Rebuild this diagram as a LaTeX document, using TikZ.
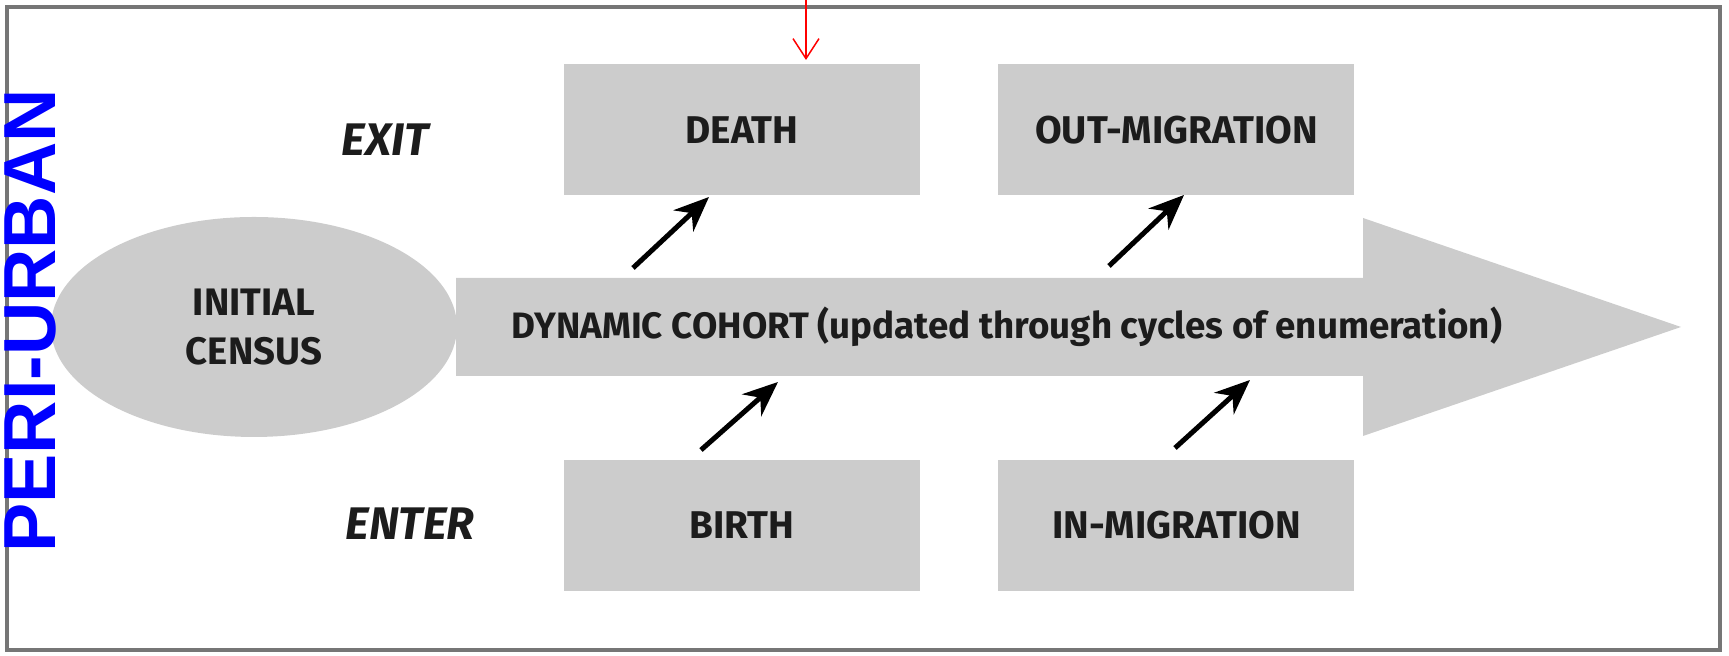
\documentclass[tikz,border=0pt]{standalone}
\usepackage{fontspec}
\setmainfont{Fira Sans}
\newfontfamily\sidefont{Liberation Sans}
\usepackage{tikz}
\usetikzlibrary{arrows.meta}
\usetikzlibrary{positioning}
\usetikzlibrary{shapes.geometric}
\definecolor{boxgray}{RGB}{204,204,204}
\definecolor{inkgray}{RGB}{28,28,28}
\definecolor{framegray}{RGB}{118,118,118}

\begin{document}
\begin{tikzpicture}[x=0.1mm,y=-0.1mm,
  box/.style={fill=boxgray,inner sep=0pt,minimum width=35.6mm,minimum height=13.1mm,text=inkgray,font=\fontsize{11}{13}\selectfont\bfseries},
  side/.style={text=inkgray,font=\fontsize{13}{15}\selectfont\bfseries\itshape},
  flow/.style={line width=0.5mm,-{Stealth[length=3.5mm,width=2.9mm]}}]
  \useasboundingbox (0,0) rectangle (1729,656);
  \draw[framegray,line width=0.4mm](7,7) rectangle (1720,650);

  \fill[boxgray](456,278)--(1363,278)--(1363,218)--(1681,327)--(1363,436)--(1363,376)--(456,376)--cycle;
  \node[ellipse,fill=boxgray,minimum width=40.6mm,minimum height=22mm,text=inkgray,align=center,font=\fontsize{10.9}{13.8}\selectfont\bfseries] (census) at (254,327){INITIAL\\CENSUS};
  \node[text=inkgray,font=\fontsize{10.45}{12}\selectfont\bfseries] (cohort) at (1007,327){DYNAMIC COHORT (updated through cycles of enumeration)};

  \node[box] (death) at (742,130){DEATH};
  \node[box,right=7.7mm of death](out){OUT-MIGRATION};
  \node[box,below=26.3mm of death](birth){BIRTH};
  \node[box,right=7.7mm of birth](in){IN-MIGRATION};

  \node[side] (exit) at (385,140){EXIT};
  \node[side] (enter) at (410,524){ENTER};

  \coordinate (deathtail) at (633,268);
  \coordinate (deathtip) at (709,197);
  \coordinate (outtail) at (1109,266);
  \coordinate (outtip) at (1184,195);
  \coordinate (birthtail) at (701,450);
  \coordinate (birthtip) at (778,382);
  \coordinate (intail) at (1175,448);
  \coordinate (intip) at (1250,380);
  \draw[flow](deathtail)--(deathtip);
  \draw[flow](outtail)--(outtip);
  \draw[flow](birthtail)--(birthtip);
  \draw[flow](intail)--(intip);

  \coordinate (marktop) at (806,0);
  \draw[red,line width=0.15mm,-{Straight Barb[length=2mm,width=2.6mm]}](marktop)--(806,60);

  \node[rotate=90,text=blue,font=\sidefont\fontsize{21}{23}\selectfont\bfseries] (peri) at (30,321){PERI-URBAN};
\end{tikzpicture}
\end{document}
